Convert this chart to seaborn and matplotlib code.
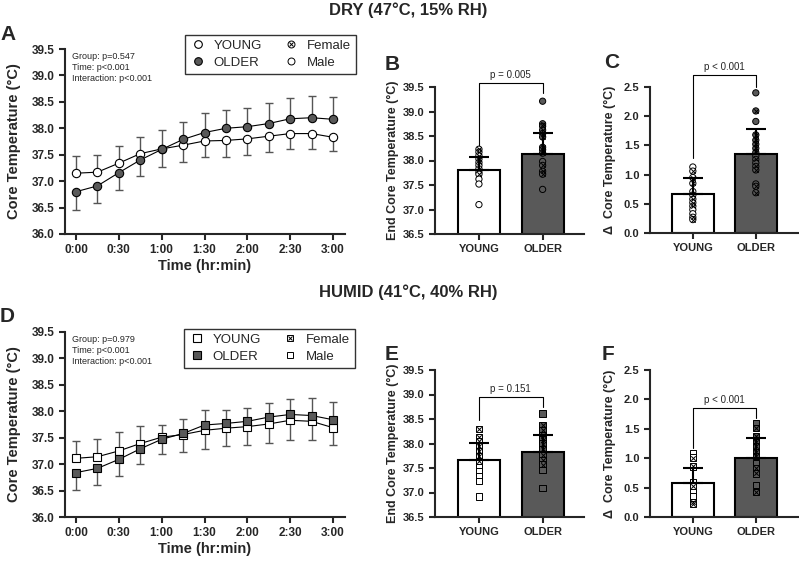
import numpy as np
import pandas as pd
import matplotlib
matplotlib.use("Agg")
import matplotlib.pyplot as plt
import seaborn as sns
from matplotlib.lines import Line2D

# ---- data ----
times = [0, 15, 30, 45, 60, 75, 90, 105, 120, 135, 150, 165, 180]
time_ticks = [0, 30, 60, 90, 120, 150, 180]
time_labels = ["0:00", "0:30", "1:00", "1:30", "2:00", "2:30", "3:00"]
groups = ["YOUNG", "OLDER"]

dry_young_mean = [37.15, 37.17, 37.34, 37.52, 37.61, 37.68, 37.76, 37.77, 37.80, 37.85, 37.90, 37.90, 37.83]
dry_young_sd = [0.33, 0.33, 0.33, 0.31, 0.35, 0.31, 0.31, 0.31, 0.30, 0.30, 0.30, 0.29, 0.26]
dry_older_mean = [36.80, 36.91, 37.16, 37.40, 37.60, 37.79, 37.92, 38.00, 38.03, 38.09, 38.18, 38.20, 38.17]
dry_older_sd = [0.34, 0.33, 0.33, 0.30, 0.33, 0.33, 0.36, 0.35, 0.35, 0.38, 0.39, 0.42, 0.42]

humid_young_mean = [37.11, 37.14, 37.25, 37.39, 37.51, 37.56, 37.64, 37.68, 37.71, 37.76, 37.83, 37.81, 37.69]
humid_young_sd = [0.33, 0.34, 0.36, 0.34, 0.23, 0.33, 0.35, 0.33, 0.34, 0.36, 0.37, 0.36, 0.33]
humid_older_mean = [36.84, 36.92, 37.09, 37.29, 37.47, 37.58, 37.74, 37.77, 37.81, 37.89, 37.94, 37.92, 37.84]
humid_older_sd = [0.33, 0.31, 0.32, 0.28, 0.28, 0.28, 0.29, 0.26, 0.26, 0.27, 0.30, 0.34, 0.34]

dry_end_mean = [37.81, 38.14]
dry_end_sd = [0.26, 0.43]
dry_delta_mean = [0.66, 1.35]
dry_delta_sd = [0.28, 0.43]
humid_end_mean = [37.67, 37.82]
humid_end_sd = [0.34, 0.36]
humid_delta_mean = [0.57, 1.01]
humid_delta_sd = [0.27, 0.34]

# individual participants (value, sex)
dry_end_young = [38.23, 38.17, 38.10, 38.03, 37.96, 37.90, 37.83, 37.76, 37.72, 37.62, 37.52, 37.10]
dry_end_young_sex = list("FFFFFMFMFMMM")
dry_end_older = [39.21, 38.75, 38.70, 38.62, 38.55, 38.48, 38.27, 38.22, 38.15, 37.98, 37.90, 37.78, 37.72, 37.41]
dry_end_older_sex = list("MFFFFFFFFMFFFM")
dry_delta_young = [1.13, 1.06, 0.95, 0.85, 0.71, 0.65, 0.58, 0.52, 0.46, 0.40, 0.33, 0.27, 0.23]
dry_delta_young_sex = list("MFFFMFFFFMMFF")
dry_delta_older = [2.40, 2.09, 1.91, 1.68, 1.59, 1.52, 1.45, 1.38, 1.32, 1.26, 1.20, 1.14, 1.08, 0.84, 0.80, 0.69]
dry_delta_older_sex = list("MFMFFFFFMFMFFMFF")

humid_end_young = [38.30, 38.13, 38.05, 37.94, 37.84, 37.74, 37.64, 37.59, 37.52, 37.43, 37.33, 37.23, 36.92]
humid_end_young_sex = list("FFFFFFFMMMMMM")
humid_end_older = [38.61, 38.37, 38.28, 38.18, 38.08, 38.00, 37.88, 37.77, 37.67, 37.57, 37.46, 37.09]
humid_end_older_sex = list("MFFFFFFFFFMM")
humid_delta_young = [1.08, 1.01, 0.86, 0.60, 0.52, 0.43, 0.35, 0.26, 0.22]
humid_delta_young_sex = list("MFFMFMMFF")
humid_delta_older = [1.59, 1.51, 1.37, 1.28, 1.20, 1.11, 1.04, 0.91, 0.83, 0.74, 0.55, 0.43]
humid_delta_older_sex = list("MFFFFFFMFFMF")

DARK = "#595959"
GREY = "#555555"
W, H = 799, 562

sns.set_theme(style="ticks")
plt.rcParams['font.family'] = ['Liberation Sans', 'DejaVu Sans']
plt.rcParams['axes.linewidth'] = 1.5
plt.rcParams['xtick.major.width'] = 1.5
plt.rcParams['ytick.major.width'] = 1.5
plt.rcParams['xtick.major.size'] = 4
plt.rcParams['ytick.major.size'] = 4


def rect(l, t, r, b):
    return [l / W, 1 - b / H, (r - l) / W, (b - t) / H]


def style_ax(ax):
    sns.despine(ax=ax)
    for lab in ax.get_xticklabels() + ax.get_yticklabels():
        lab.set_fontweight("bold")


def time_panel(ax, ym, ysd, om, osd, marker):
    # error bars point away from the other group, as in the original
    for m, sd, other in [(ym, ysd, om), (om, osd, ym)]:
        m, sd, other = np.array(m), np.array(sd), np.array(other)
        up = np.where(m >= other, sd, 0)
        down = np.where(m < other, sd, 0)
        ax.errorbar(times, m, yerr=[down, up], fmt="none", ecolor=GREY,
                    elinewidth=1, capsize=3, capthick=1, zorder=2)
    for m, face in [(ym, "white"), (om, DARK)]:
        sns.lineplot(x=times, y=m, color="black", lw=0.8, marker=marker, markersize=6,
                     markerfacecolor=face, markeredgecolor="black", markeredgewidth=0.8,
                     ax=ax, zorder=3)
    ax.set_xlim(-7.7, 188.4)
    ax.set_ylim(36.0, 39.5)
    ax.set_yticks(np.arange(36.0, 39.51, 0.5))
    ax.set_yticklabels([f"{v:.1f}" for v in np.arange(36.0, 39.51, 0.5)], fontsize=8.5)
    ax.set_xticks(time_ticks)
    ax.set_xticklabels(time_labels, fontsize=8.5)
    ax.set_xlabel("Time (hr:min)", fontsize=10.5, fontweight="bold", labelpad=2)
    ax.set_ylabel("Core Temperature (°C)", fontsize=10.5, fontweight="bold", labelpad=8)
    style_ax(ax)


def bar_panel(ax, means, sds, young, ysex, older, osex, marker, ylim, ylabel,
              ptext, bracket, xlim, pad):
    sns.barplot(x=groups, y=means, hue=groups, palette={"YOUNG": "white", "OLDER": DARK},
                saturation=1, edgecolor="black", linewidth=1.5, width=0.66,
                legend=False, ax=ax, zorder=1)
    ax.errorbar([0, 1], means, yerr=[[0, 0], sds], fmt="none", ecolor="black",
                elinewidth=1.5, capsize=7, capthick=1.5, zorder=5)
    pts = pd.DataFrame({
        "group": ["YOUNG"] * len(young) + ["OLDER"] * len(older),
        "value": young + older,
        "sex": ysex + osex,
    })
    sns.stripplot(data=pts, x="group", y="value", hue="group", order=groups, hue_order=groups,
                  palette={"YOUNG": "white", "OLDER": DARK}, jitter=False, marker=marker,
                  size=4.5, edgecolor="black", linewidth=0.7, legend=False, ax=ax, zorder=3)
    fem = pts[pts["sex"] == "F"]
    sns.stripplot(data=fem, x="group", y="value", order=groups, color="black", jitter=False,
                  marker="x", size=3.2, linewidth=0.7, ax=ax, zorder=4)
    ax.set_xlim(*xlim)
    ax.set_ylim(*ylim)
    ticks = np.arange(ylim[0], ylim[1] + 0.01, 0.5)
    ax.set_yticks(ticks)
    ax.set_yticklabels([f"{v:.1f}" for v in ticks], fontsize=8)
    ax.set_xticks([0, 1])
    ax.set_xticklabels(groups, fontsize=8)
    ax.set_xlabel("")
    ax.set_ylabel(ylabel, fontsize=9, fontweight="bold", labelpad=pad)
    lo_l, top, lo_r = bracket
    ax.plot([0, 0, 1, 1], [lo_l, top, top, lo_r], color="black", lw=0.8, clip_on=False)
    ax.text(0.5, top + (ylim[1] - ylim[0]) * 0.02, ptext, ha="center", va="bottom",
            fontsize=7, clip_on=False)
    style_ax(ax)


fig = plt.figure(figsize=(W / 100, H / 100), dpi=100)

axA = fig.add_axes(rect(65, 49, 345, 234))
axB = fig.add_axes(rect(435, 87, 584, 234))
axC = fig.add_axes(rect(650, 87, 798, 233))
axD = fig.add_axes(rect(65, 332, 345, 517))
axE = fig.add_axes(rect(435, 370, 584, 517))
axF = fig.add_axes(rect(650, 370, 798, 517))

time_panel(axA, dry_young_mean, dry_young_sd, dry_older_mean, dry_older_sd, "o")
time_panel(axD, humid_young_mean, humid_young_sd, humid_older_mean, humid_older_sd, "s")

bar_panel(axB, dry_end_mean, dry_end_sd, dry_end_young, dry_end_young_sex,
          dry_end_older, dry_end_older_sex, "o", (36.5, 39.5), "End Core Temperature (°C)",
          "p = 0.005", (38.28, 39.58, 39.38), (-0.69, 1.65), 3)
bar_panel(axC, dry_delta_mean, dry_delta_sd, dry_delta_young, dry_delta_young_sex,
          dry_delta_older, dry_delta_older_sex, "o", (0.0, 2.5), "Δ  Core Temperature (°C)",
          "p < 0.001", (1.28, 2.70, 2.50), (-0.68, 1.67), 6)
bar_panel(axE, humid_end_mean, humid_end_sd, humid_end_young, humid_end_young_sex,
          humid_end_older, humid_end_older_sex, "s", (36.5, 39.5), "End Core Temperature (°C)",
          "p = 0.151", (38.48, 38.95, 38.74), (-0.69, 1.65), 3)
bar_panel(axF, humid_delta_mean, humid_delta_sd, humid_delta_young, humid_delta_young_sex,
          humid_delta_older, humid_delta_older_sex, "s", (0.0, 2.5), "Δ  Core Temperature (°C)",
          "p < 0.001", (1.17, 1.85, 1.68), (-0.68, 1.67), 6)

# stats text
for ax, txt in [(axA, "Group: p=0.547\nTime: p<0.001\nInteraction: p<0.001"),
                (axD, "Group: p=0.979\nTime: p<0.001\nInteraction: p<0.001")]:
    ax.text(0.025, 0.985, txt, transform=ax.transAxes, ha="left", va="top",
            fontsize=6.5, linespacing=1.3)


# legends
def legend(marker, anchor):
    young = Line2D([], [], marker=marker, ls="", mfc="white", mec="black", mew=0.8, ms=5.5)
    older = Line2D([], [], marker=marker, ls="", mfc=DARK, mec="black", mew=0.8, ms=5.5)
    fem = (Line2D([], [], marker=marker, ls="", mfc="white", mec="black", mew=0.7, ms=5),
           Line2D([], [], marker="x", ls="", color="black", mew=0.7, ms=3.5))
    male = Line2D([], [], marker=marker, ls="", mfc="white", mec="black", mew=0.7, ms=5)
    leg = fig.legend([young, older, fem, male], ["YOUNG", "OLDER", "Female", "Male"],
                     ncol=2, loc="upper left", bbox_to_anchor=anchor, fontsize=9.5,
                     frameon=True, fancybox=False, edgecolor="black", handlelength=1.2,
                     handletextpad=0.6, columnspacing=1.6, borderpad=0.4, labelspacing=0.35)
    leg.get_frame().set_linewidth(1)


legend("o", (178 / W, 1 - 28 / H))
legend("s", (177 / W, 1 - 322 / H))

# titles and panel letters
fig.text(408 / W, 1 - 10 / H, "DRY (47°C, 15% RH)", ha="center", va="center",
         fontsize=12, fontweight="bold")
fig.text(408 / W, 1 - 292 / H, "HUMID (41°C, 40% RH)", ha="center", va="center",
         fontsize=12, fontweight="bold")
for letter, x, y in [("A", 0, 34), ("B", 385, 64), ("C", 604, 63),
                     ("D", 0, 317), ("E", 385, 355), ("F", 602, 355)]:
    fig.text(x / W, 1 - y / H, letter, ha="left", va="center", fontsize=15, fontweight="bold")

fig.savefig("out.png", dpi=100)
